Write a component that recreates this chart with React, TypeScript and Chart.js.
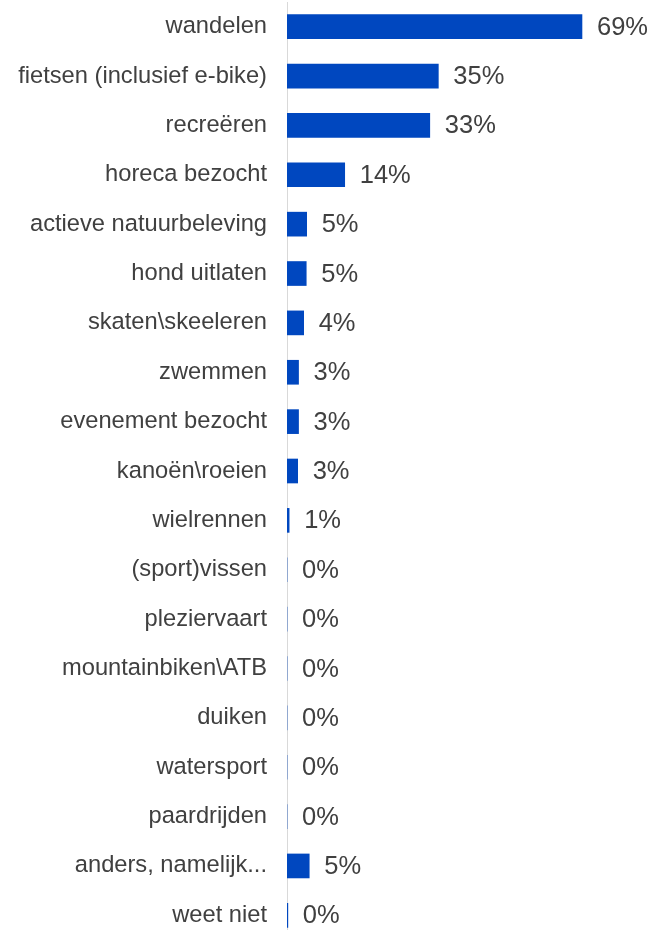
import React, { useEffect, useRef } from "react";
import { Chart, registerables } from "chart.js";

Chart.register(...registerables);

const categories = [
  "wandelen",
  "fietsen (inclusief e-bike)",
  "recreëren",
  "horeca bezocht",
  "actieve natuurbeleving",
  "hond uitlaten",
  "skaten\\skeeleren",
  "zwemmen",
  "evenement bezocht",
  "kanoën\\roeien",
  "wielrennen",
  "(sport)vissen",
  "pleziervaart",
  "mountainbiken\\ATB",
  "duiken",
  "watersport",
  "paardrijden",
  "anders, namelijk...",
  "weet niet",
];

const values = [69, 35.4, 33.4, 13.5, 4.6, 4.5, 3.9, 2.7, 2.7, 2.5, 0.5, 0, 0, 0, 0, 0, 0, 5.2, 0.2];

const xMax = 80;
const barColor = "#0047bf";
const textColor = "#404040";
const fontFamily = "'Liberation Sans', Arial, Helvetica, sans-serif";

const valueLabelPlugin = {
  id: "valueLabels",
  afterDatasetsDraw(chart: any) {
    const ctx = chart.ctx;
    const meta = chart.getDatasetMeta(0);
    ctx.save();
    ctx.fillStyle = textColor;
    ctx.font = `25.5px ${fontFamily}`;
    ctx.textAlign = "left";
    ctx.textBaseline = "middle";
    meta.data.forEach((el: any, i: number) => {
      const v = values[i];
      ctx.fillText(`${Math.round(v)}%`, el.x + 15, el.y + 1);
    });
    ctx.restore();
  },
};

export default function App() {
  const ref = useRef<HTMLCanvasElement | null>(null);
  useEffect(() => {
    if (!ref.current) return;
    const chart = new Chart(ref.current, {
      type: "bar",
      data: {
        labels: categories,
        datasets: [
          {
            data: values,
            backgroundColor: barColor,
            borderWidth: 0,
            barThickness: 24,
          },
        ],
      },
      options: {
        indexAxis: "y",
        animation: false,
        responsive: false,
        devicePixelRatio: 1,
        layout: { padding: { top: 2, bottom: 2, right: 27, left: 0 } },
        plugins: {
          legend: { display: false },
          tooltip: { enabled: false },
        },
        scales: {
          x: {
            display: false,
            min: 0,
            max: xMax,
          },
          y: {
            grid: { display: false, drawTicks: false },
            border: { display: true, color: "#d9d9d9", width: 1 },
            ticks: {
              color: textColor,
              padding: 20,
              font: { family: fontFamily, size: 23.7 },
            },
            afterFit: (s: any) => {
              s.width = 287;
              s.paddingTop = 0;
              s.paddingBottom = 0;
            },
          },
        },
      },
      plugins: [valueLabelPlugin],
    });
    return () => chart.destroy();
  }, []);
  return (
    <div
      style={{
        position: "fixed",
        left: 0,
        top: 0,
        width: 656,
        height: 930,
        overflow: "hidden",
        background: "#fff",
      }}
    >
      <canvas ref={ref} width={656} height={942} style={{ display: "block" }} />
    </div>
  );
}
